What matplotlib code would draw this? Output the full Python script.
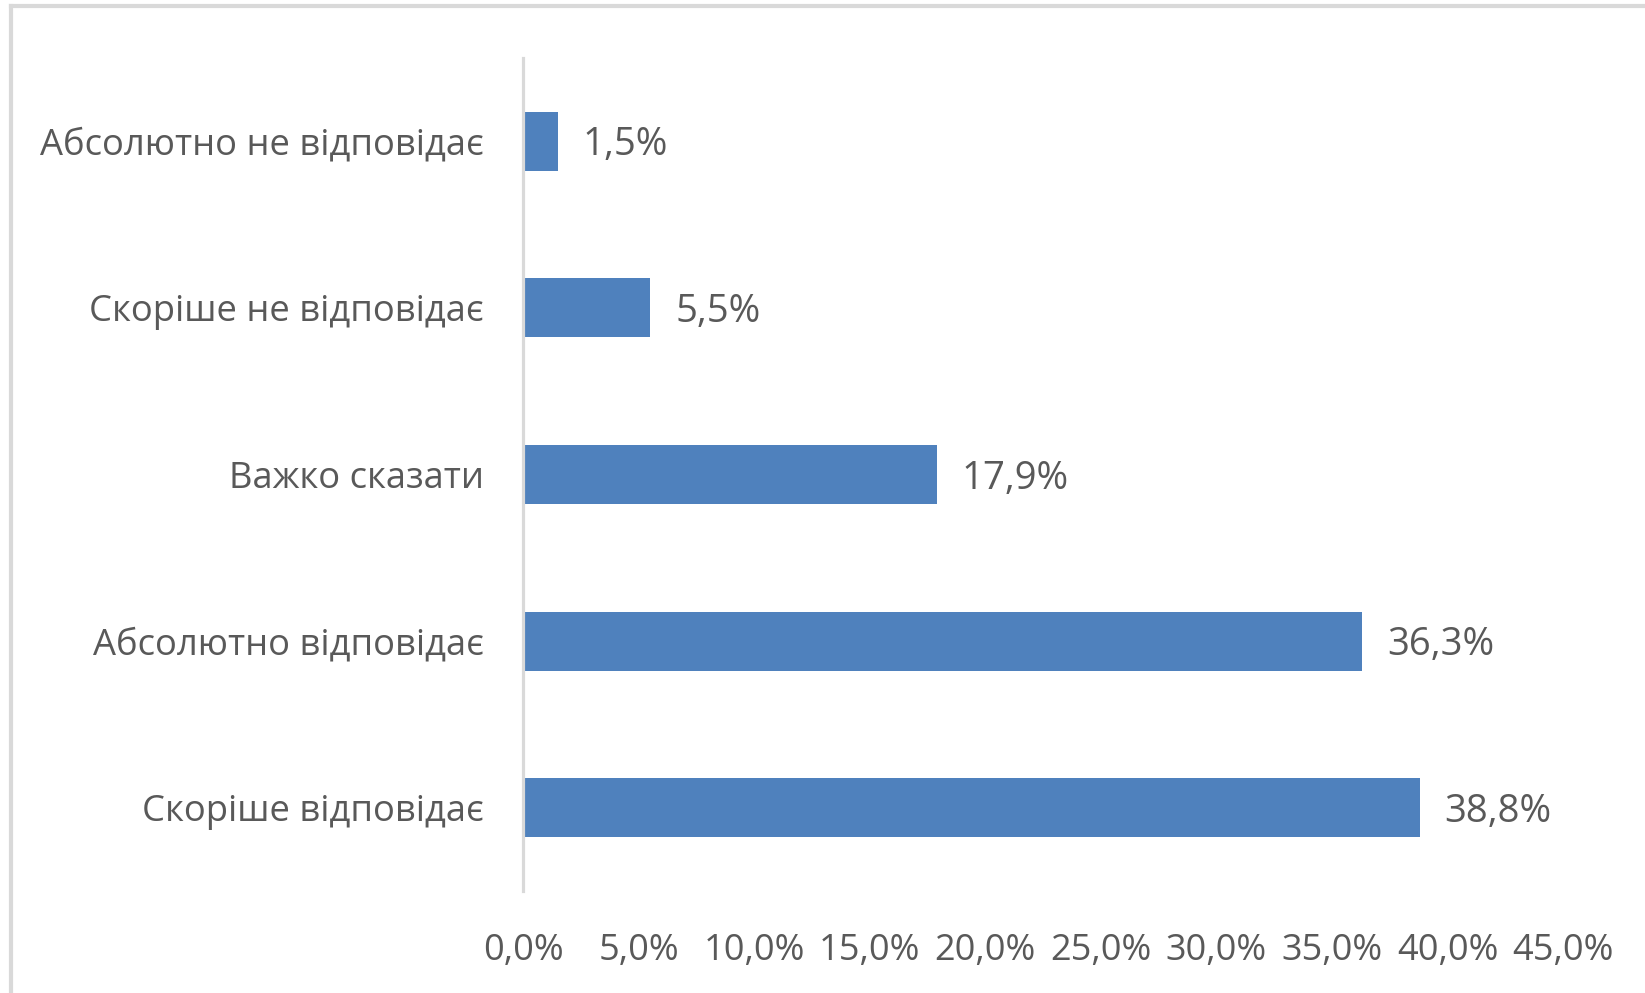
import matplotlib.pyplot as plt
from matplotlib.lines import Line2D

plt.rcParams['font.family'] = ['Open Sans', 'DejaVu Sans']

categories = ['Скоріше відповідає', 'Абсолютно відповідає', 'Важко сказати',
              'Скоріше не відповідає', 'Абсолютно не відповідає']
values = [38.8, 36.3, 17.9, 5.5, 1.5]
xticks = [0, 5, 10, 15, 20, 25, 30, 35, 40, 45]

bar_color = '#4F81BD'
text_color = '#595959'
grey = '#D9D9D9'

fig = plt.figure(figsize=(16.45, 9.93), dpi=100)
ax = fig.add_axes([523 / 1645, 1 - 891 / 993, 1040 / 1645, 833 / 993])

ax.barh(range(len(categories)), values, height=0.355, color=bar_color)
ax.set_xlim(0, 45)
ax.set_ylim(-0.5, len(categories) - 0.5)

ax.set_yticks(range(len(categories)))
ax.set_yticklabels(categories)
ax.set_xticks(xticks)
ax.set_xticklabels([f'{t:.1f}%'.replace('.', ',') for t in xticks])

ax.tick_params(axis='y', length=0, pad=28, labelsize=26.2, labelcolor=text_color)
ax.tick_params(axis='x', length=0, pad=30, labelsize=26, labelcolor=text_color)

for s in ['top', 'right', 'bottom']:
    ax.spines[s].set_visible(False)
ax.spines['left'].set_color(grey)
ax.spines['left'].set_linewidth(2.3)

for i, v in enumerate(values):
    ax.annotate(f'{v:.1f}%'.replace('.', ','), (v, i), xytext=(18, -3),
                textcoords='offset points', va='center', ha='left',
                fontsize=27.5, color=text_color)

# chart frame
fig.add_artist(Line2D([11 / 1645, 1], [1 - 6 / 993, 1 - 6 / 993], color=grey, lw=3))
fig.add_artist(Line2D([11 / 1645, 11 / 1645], [0, 1 - 6 / 993], color=grey, lw=3))

fig.savefig('out.png', dpi=100, facecolor='white')
